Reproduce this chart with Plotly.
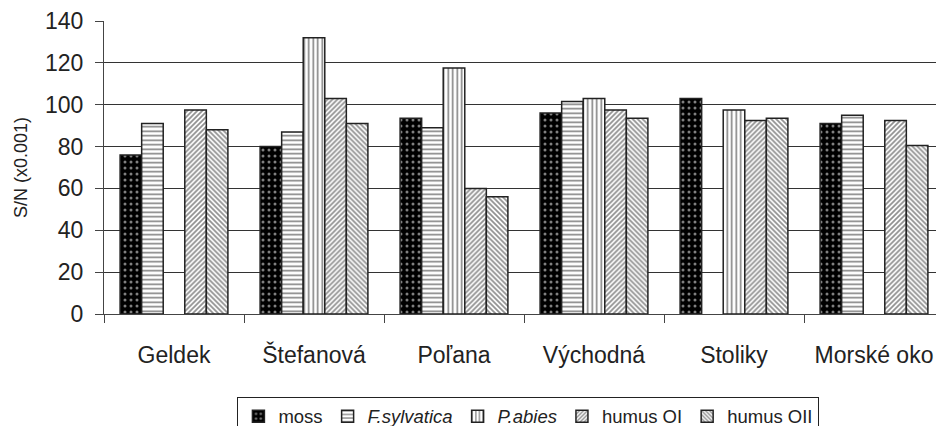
import plotly.graph_objects as go

# sites and S/N values (x0.001)
sites = ['Geldek', 'Štefanová', 'Poľana', 'Východná', 'Stoliky', 'Morské oko']
moss = [76, 80, 93.5, 96, 103, 91]
f_sylvatica = [91, 87, 89, 101.5, None, 95]
p_abies = [None, 132, 117.5, 103, 97.5, None]
humus_oi = [97.5, 103, 60, 97.5, 92.5, 92.5]
humus_oii = [88, 91, 56, 93.5, 93.5, 80.5]

fig = go.Figure()

fig.add_bar(x=sites, y=moss, name='moss', marker_color='black',
            marker_pattern=dict(shape='.', bgcolor='black', fgcolor='white', size=6, solidity=0.2))
fig.add_bar(x=sites, y=f_sylvatica, name='<i>F.sylvatica</i>', marker_color='white',
            marker_pattern=dict(shape='-', bgcolor='white', fgcolor='black', size=4.5, solidity=0.35))
fig.add_bar(x=sites, y=p_abies, name='<i>P.abies</i>', marker_color='white',
            marker_pattern=dict(shape='|', bgcolor='white', fgcolor='black', size=4.5, solidity=0.35))
fig.add_bar(x=sites, y=humus_oi, name='humus OI', marker_color='white',
            marker_pattern=dict(shape='/', bgcolor='white', fgcolor='#222', size=3.5, solidity=0.5))
fig.add_bar(x=sites, y=humus_oii, name='humus OII', marker_color='white',
            marker_pattern=dict(shape='\\', bgcolor='white', fgcolor='#222', size=3.5, solidity=0.5))

fig.update_traces(marker_line_color='#222', marker_line_width=1.5)

# page body adds 8px, so the figure is 8px smaller than the window
fig.update_layout(
    width=936, height=418,
    margin=dict(l=96, r=0, t=13, b=112),
    paper_bgcolor='white', plot_bgcolor='white',
    font=dict(family='Arial, Liberation Sans', color='#222', size=18),
    barmode='group', bargap=0.23, bargroupgap=0,
    showlegend=True,
    # container refs so the legend does not squeeze the plot area
    legend=dict(orientation='h', xref='container', yref='container',
                x=0.556, xanchor='center', y=0.07, yanchor='top',
                font=dict(size=18.5), bordercolor='#222', borderwidth=1,
                itemwidth=30, tracegroupgap=0),
)

fig.update_xaxes(showline=True, linecolor='#444', linewidth=1,
                 ticks='outside', tickson='boundaries', ticklen=8, tickcolor='#444',
                 ticklabelstandoff=20, tickfont=dict(size=23))
fig.update_yaxes(range=[0, 140], dtick=20, showline=True, linecolor='#444', linewidth=1,
                 ticks='outside', ticklen=8, tickcolor='#444', ticklabelstandoff=7,
                 showgrid=True, gridcolor='#333', gridwidth=1, zeroline=False,
                 tickfont=dict(size=23),
                 title=dict(text='S/N (x0.001)', font=dict(size=18), standoff=12))

fig.write_html("out.html")
